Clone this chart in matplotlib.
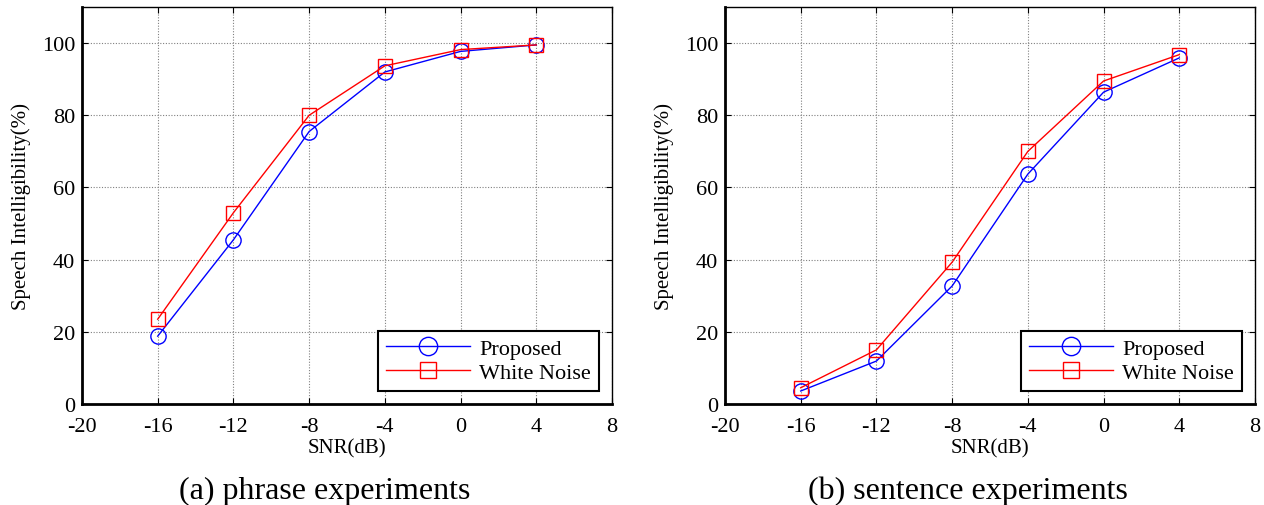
import matplotlib
matplotlib.use("Agg")
import matplotlib.pyplot as plt

snr = [-16, -12, -8, -4, 0, 4]
phrase_proposed = [18.8, 45.5, 75.5, 92.0, 97.7, 99.5]
phrase_white = [23.5, 53.0, 80.0, 93.7, 98.2, 99.5]
sentence_proposed = [3.6, 11.9, 32.7, 63.7, 86.4, 95.9]
sentence_white = [4.5, 15.0, 39.3, 70.0, 89.5, 96.8]
xticks = [-20, -16, -12, -8, -4, 0, 4, 8]
yticks = [0, 20, 40, 60, 80, 100]
captions = ["(a) phrase experiments", "(b) sentence experiments"]

plt.rcParams['font.family'] = ['Liberation Serif', 'DejaVu Serif']
plt.rcParams['axes.unicode_minus'] = False

W, H = 1264, 506
fig = plt.figure(figsize=(W / 100, H / 100), dpi=100)
lefts = [82, 725]
panels = [(phrase_proposed, phrase_white), (sentence_proposed, sentence_white)]
for i, (left, (prop, white)) in enumerate(zip(lefts, panels)):
    ax = fig.add_axes([left / W, 1 - 405 / H, 530 / W, 397 / H])
    ax.plot(snr, prop, color='blue', lw=1.0, marker='o', ms=11,
            mfc='none', mec='blue', mew=1.0, label='Proposed')
    ax.plot(snr, white, color='red', lw=1.0, marker='s', ms=10,
            mfc='none', mec='red', mew=1.0, label='White Noise')
    ax.set_xlim(-20, 8)
    ax.set_ylim(0, 110)
    ax.set_xticks(xticks)
    ax.set_xticklabels([str(t) for t in xticks])
    ax.set_yticks(yticks)
    ax.set_yticklabels([str(t) for t in yticks])
    ax.grid(True, linestyle=(0, (1, 1.5)), color='#808080', linewidth=0.8)
    ax.tick_params(direction='in', top=True, right=True, labelsize=16, length=4)
    ax.tick_params(axis='x', pad=9)
    ax.tick_params(axis='y', pad=5)
    for s in ax.spines.values():
        s.set_linewidth(1.0)
    ax.spines['bottom'].set_linewidth(2.0)
    ax.spines['left'].set_linewidth(2.0)
    ax.set_xlabel('SNR(dB)', fontsize=15, labelpad=2)
    ax.set_ylabel('Speech Intelligibility(%)', fontsize=15, labelpad=8)
    leg = ax.legend(loc='lower right', fontsize=16, fancybox=False,
                    edgecolor='black', framealpha=1, borderaxespad=0.6,
                    handlelength=3.8, handletextpad=0.4, labelspacing=0.15,
                    borderpad=0.35, markerscale=1.2)
    leg.get_frame().set_linewidth(1.5)
    fig.text((left + 265 - 22) / W, 1 - 499 / H, captions[i], ha='center',
             va='baseline', fontsize=23)

fig.savefig('out.png', dpi=100)
